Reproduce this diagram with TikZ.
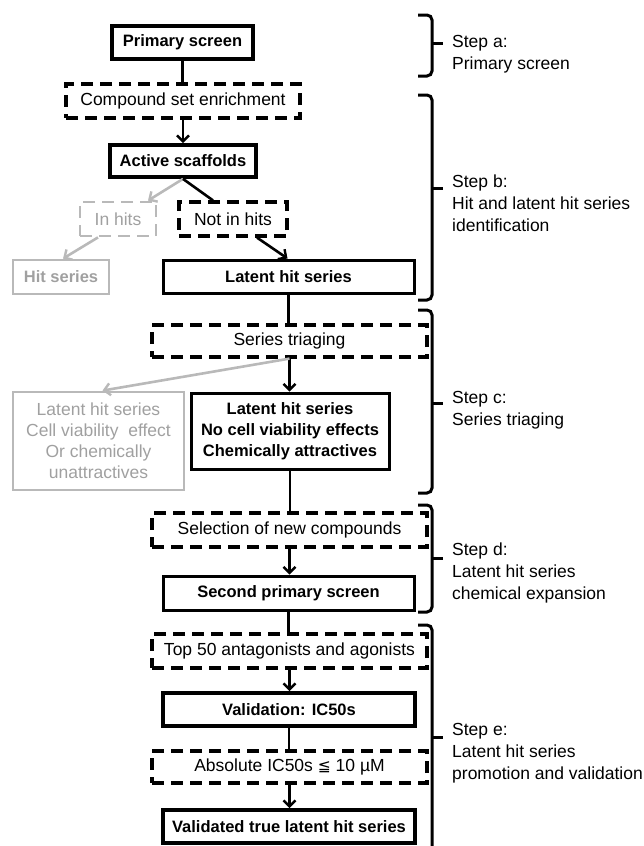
\documentclass[tikz,border=0pt]{standalone}
\usepackage{fontspec}
\setmainfont{Liberation Sans}
\newfontfamily\dejavu{DejaVu Sans}
\usetikzlibrary{arrows.meta}
\definecolor{lg}{RGB}{185,185,185}
\definecolor{lgt}{RGB}{160,160,160}
\begin{document}
\begin{tikzpicture}[x=1pt,y=-1pt,
  base/.style={inner sep=0pt,align=center,font=\fontsize{17.5}{21}\selectfont},
  thickbox/.style={base,draw,line width=3.8pt,font=\bfseries\fontsize{16.5}{21}\selectfont},
  midbox/.style={base,draw,line width=3pt,font=\bfseries\fontsize{16.5}{21}\selectfont},
  dbox/.style={base,draw,line width=3.2pt,dash pattern=on 12pt off 7pt},
  gdbox/.style={base,draw=lg,text=lgt,line width=2.8pt,dash pattern=on 12pt off 7pt},
  gbox/.style={base,draw=lg,text=lgt,line width=2.8pt},
  conn/.style={line width=2.6pt},
  arr/.style={line width=2.6pt,-{Straight Barb[length=6pt,width=12pt,line width=2.4pt]}},
  garr/.style={arr,draw=lg,-{Straight Barb[length=6pt,width=12pt,line width=2.4pt]}},
  brk/.style={line width=3pt,rounded corners=5pt},
  tick/.style={line width=3pt},
  steptext/.style={anchor=north west,inner sep=0pt,align=left,font=\fontsize{17.5}{22}\selectfont}
]
\useasboundingbox (0,0) rectangle (644,846);

% main flow
\node[thickbox,minimum width=141,minimum height=33] (ps) at (182.5,42.5) {Primary screen};
\node[dbox,minimum width=234,minimum height=34] (cse) at (183,101) {Compound set enrichment};
\node[thickbox,minimum width=146,minimum height=32] (as) at (183,161) {Active scaffolds};
\node[gdbox,minimum width=76,minimum height=34] (ih) at (118,219) {In hits};
\node[dbox,minimum width=108,minimum height=34] (nih) at (233,219) {Not in hits};
\node[gbox,minimum width=96,minimum height=34,font=\bfseries\fontsize{16.5}{21}\selectfont] (hs) at (61,277) {Hit series};
\node[midbox,minimum width=251,minimum height=33] (lhs) at (288.5,276.5) {Latent hit series};
\node[dbox,minimum width=275,minimum height=32] (st) at (289.5,341) {Series triaging};
\node[gbox,minimum width=171,minimum height=98] (gb) at (98.5,441) {Latent hit series\\Cell viability\ \ effect\\Or chemically\\unattractives};
\node[midbox,minimum width=198,minimum height=76] (bb) at (290,431) {Latent hit series\\No cell viability effects\\Chemically attractives};
\node[dbox,minimum width=275,minimum height=34] (snc) at (289.5,530) {Selection of new compounds};
\node[midbox,minimum width=251,minimum height=34] (sps) at (288.5,593) {Second primary screen};
\node[dbox,minimum width=275,minimum height=34] (top) at (289.5,651) {Top 50 antagonists and agonists};
\node[thickbox,minimum width=252,minimum height=33] (val) at (289,709.5) {Validation: IC50s};
\node[dbox,minimum width=275,minimum height=32] (abs) at (289.5,767) {Absolute IC50s {\dejavu\fontsize{15.5}{21}\selectfont ≦} 10 µM};
\node[thickbox,minimum width=252,minimum height=33] (vtl) at (289,826.5) {Validated true latent hit series};

% connectors
\draw[conn] (ps.south) -- (ps.south |- cse.north);
\draw[arr] (cse.south) -- (as.north);
\draw[garr] (as.south) -- ([xshift=30pt]ih.north);
\draw[conn] (as.south) -- ([xshift=-20pt]nih.north);
\draw[garr] ([xshift=-20pt]ih.south) -- ([xshift=2pt]hs.north);
\draw[arr] ([xshift=24pt]nih.south) -- ([xshift=-1pt]lhs.north);
\draw[conn] (lhs.south) -- (lhs.south |- st.north);
\draw[arr] (st.south) -- (st.south |- bb.north);
\draw[garr] (st.south) -- ([xshift=4pt]gb.north);
\draw[conn] (bb.south) -- (bb.south |- snc.north);
\draw[arr] (snc.south) -- (snc.south |- sps.north);
\draw[conn] (sps.south) -- (sps.south |- top.north);
\draw[arr] (top.south) -- (top.south |- val.north);
\draw[conn] (val.south) -- (val.south |- abs.north);
\draw[arr] (abs.south) -- (abs.south |- vtl.north);

% brackets
\draw[brk] (418,15) -- (432,15) -- (432,76) -- (418,76);
\draw[tick] (432,43) -- (443,43);
\draw[brk] (418,95) -- (432,95) -- (432,300) -- (418,300);
\draw[tick] (432,188) -- (443,188);
\draw[brk] (418,310) -- (432,310) -- (432,493) -- (418,493);
\draw[tick] (432,403) -- (443,403);
\draw[brk] (418,505) -- (432,505) -- (432,612) -- (418,612);
\draw[tick] (432,558) -- (443,558);
\draw[brk] (418,625) -- (432,625) -- (432,850);
\draw[tick] (432,737) -- (443,737);

% step labels
\node[steptext] (sa) at (452,35) {Step a:\\Primary screen};
\node[steptext] (sb) at (452,175) {Step b:\\Hit and latent hit series\\identification};
\node[steptext] (sc) at (452,391) {Step c:\\Series triaging};
\node[steptext] (sd) at (452,543) {Step d:\\Latent hit series\\chemical expansion};
\node[steptext] (se) at (452,723) {Step e:\\Latent hit series\\promotion and validation};
\end{tikzpicture}
\end{document}
